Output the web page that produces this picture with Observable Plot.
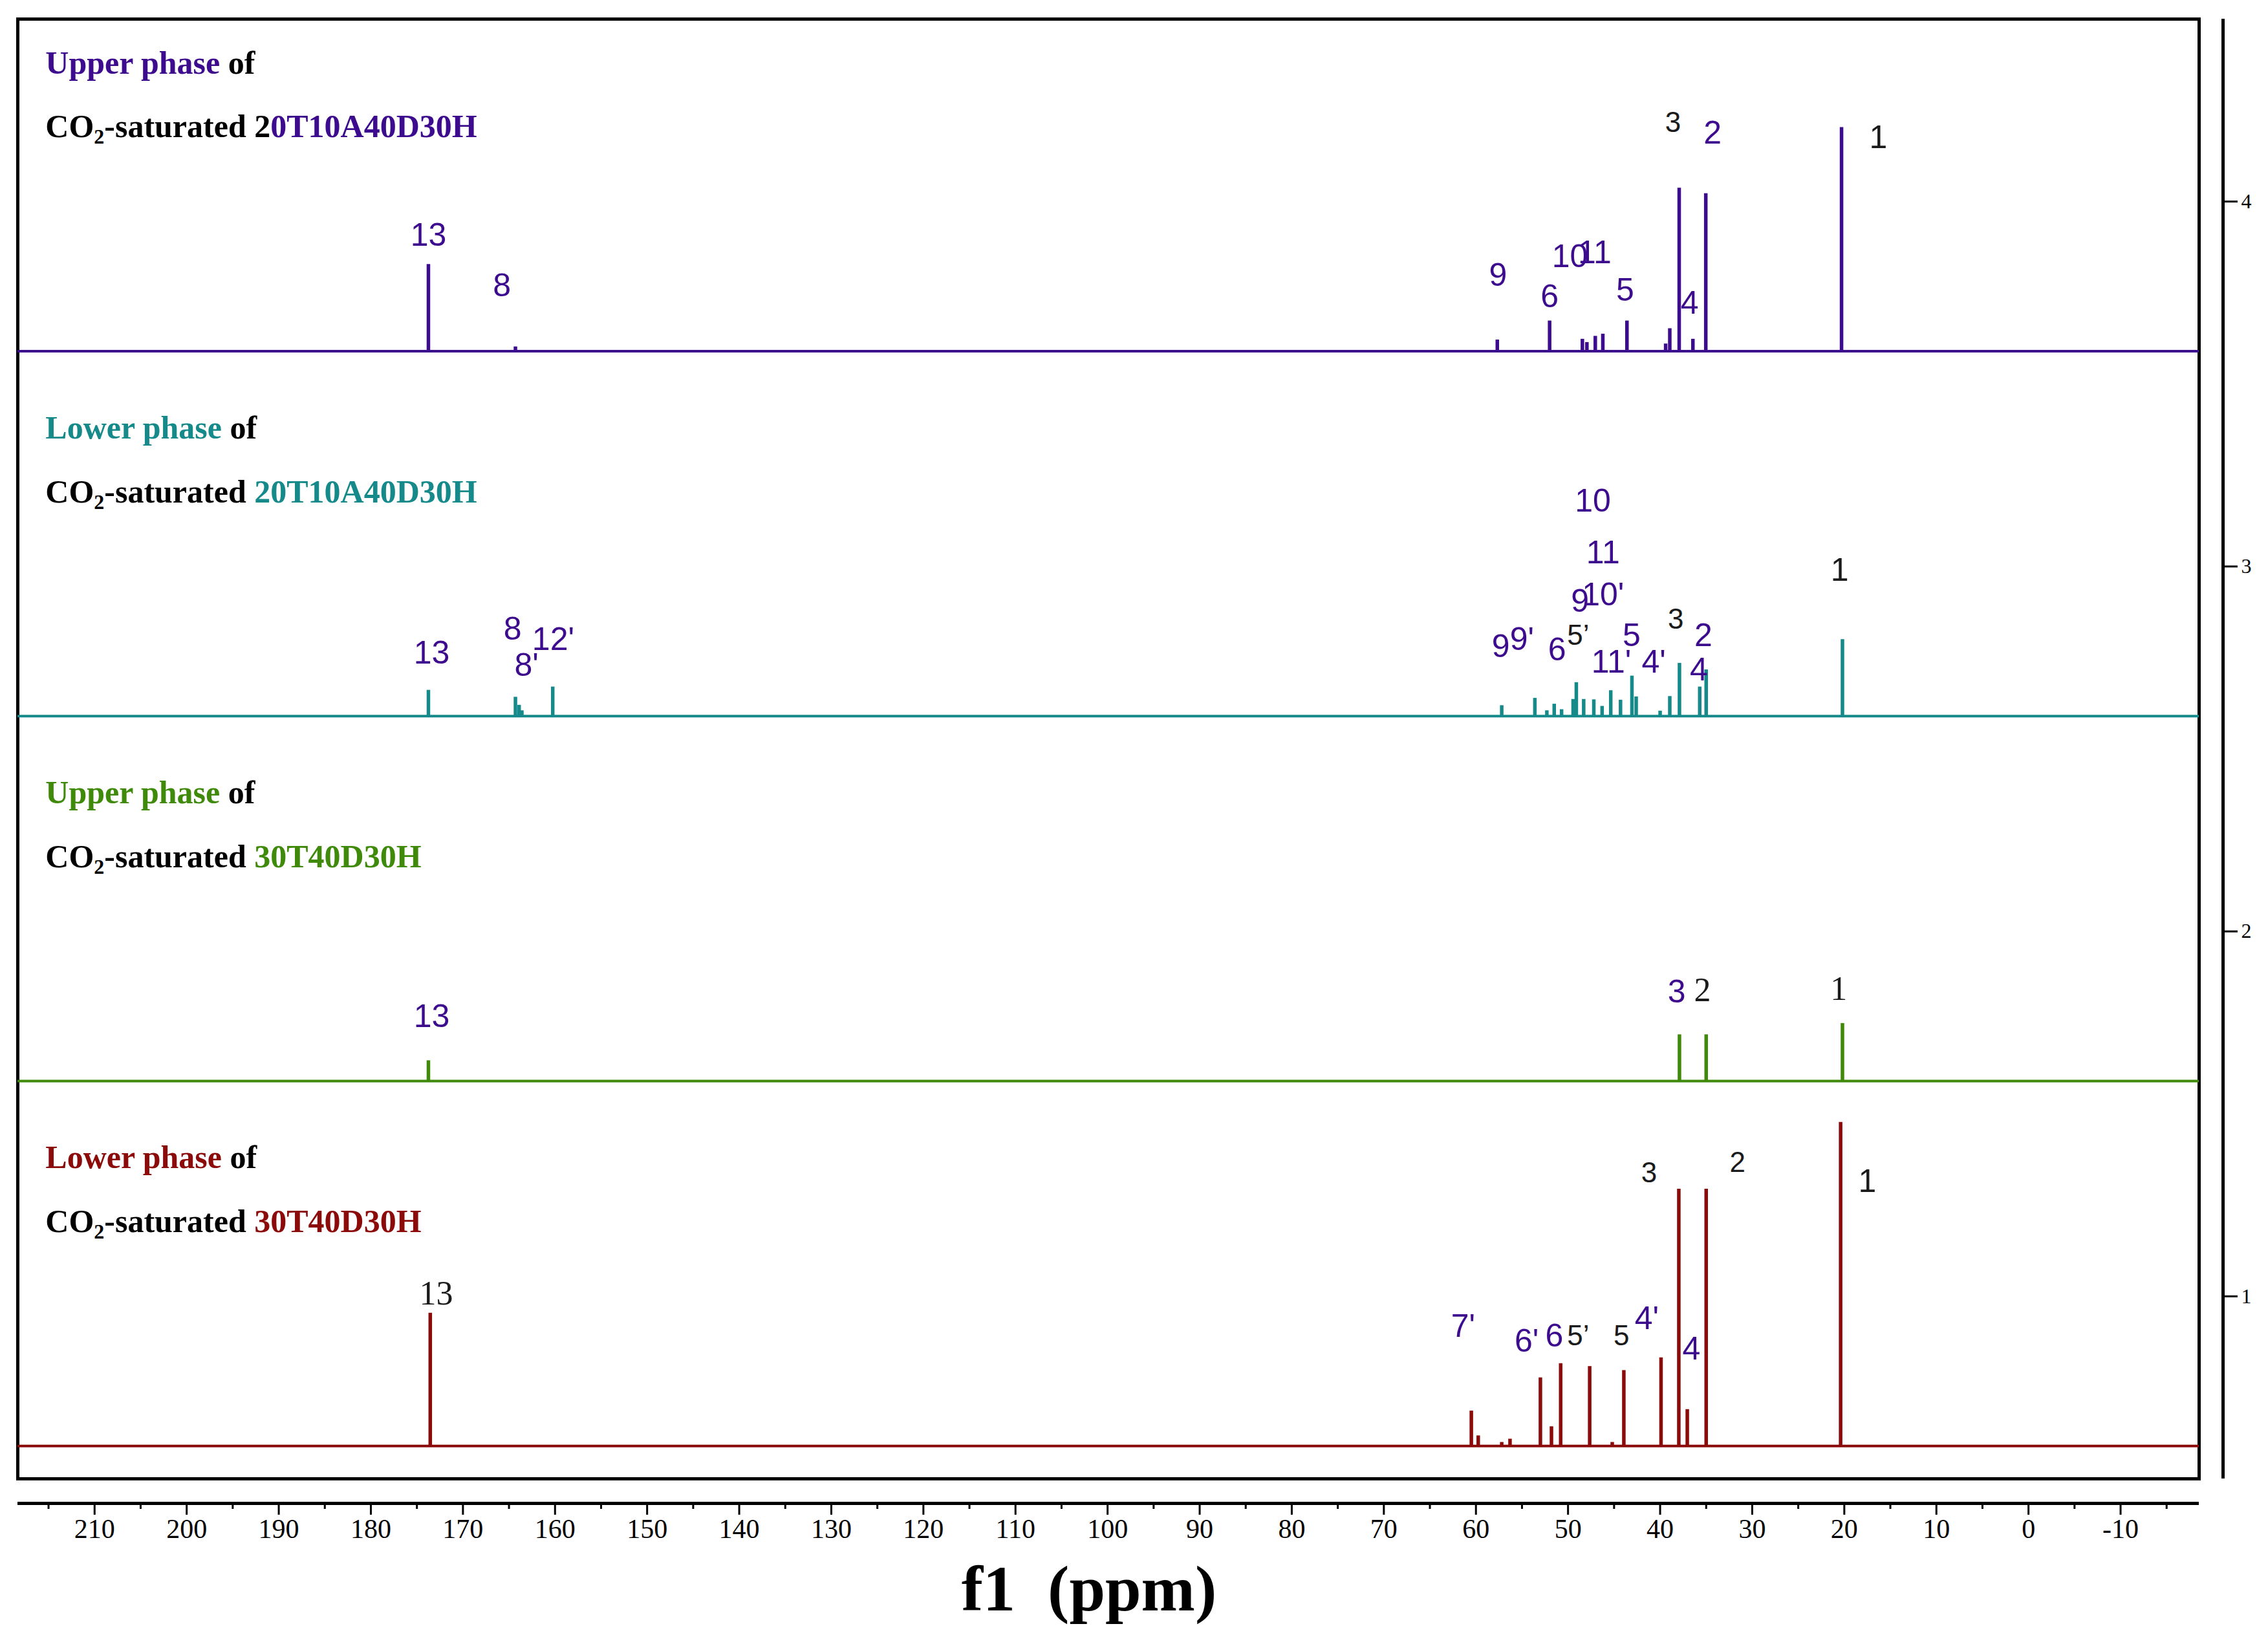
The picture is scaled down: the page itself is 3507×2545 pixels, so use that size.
<!DOCTYPE html>
<html><head><meta charset="utf-8">
<script src="https://cdn.jsdelivr.net/npm/d3@7"></script>
<script src="https://cdn.jsdelivr.net/npm/@observablehq/plot@0.6"></script>
<style>html,body{margin:0;padding:0;background:#fff} svg{display:block}</style>
</head><body><div id="chart"></div>
<script>
// ---- scales / ticks ----
const ppmDomain = [218.34, -18.53];
const yDomain = [0.5, 4.5];
const xMajorTicks = [210,200,190,180,170,160,150,140,130,120,110,100,90,80,70,60,50,40,30,20,10,0,-10];
const xMinorTicks = [215,205,195,185,175,165,155,145,135,125,115,105,95,85,75,65,55,45,35,25,15,5,-5,-15];
const yTicks = [1,2,3,4];
const xTitle = "f1\u00a0\u00a0(ppm)";

// ---- panels (top to bottom) ----
const panelOffsets = [3.59, 2.59, 1.59, 0.59];
const panelColors = ["#3d0c8e", "#168a8a", "#3f8a0a", "#8b0a0a"];
const legendPhase = ["Upper phase", "Lower phase", "Upper phase", "Lower phase"];
const legendPrefix = ["2", "", "", ""];
const legendSample = ["0T10A40D30H", "20T10A40D30H", "30T40D30H", "30T40D30H"];

// ---- peaks: chemical shift (ppm) and height above baseline ----
const peakPpm1 = [173.75, 164.3, 57.68, 52.0, 48.44, 47.95, 47.04, 46.22, 43.6, 39.4, 38.95, 37.93, 36.44, 35.04, 20.3];
const peakH1   = [0.238, 0.012, 0.031, 0.083, 0.033, 0.024, 0.041, 0.047, 0.083, 0.02, 0.062, 0.447, 0.033, 0.432, 0.613];
const peakPpm2 = [173.75, 164.3, 163.9, 163.6, 160.25, 57.2, 53.6, 52.3, 51.5, 50.7, 49.45, 49.1, 48.3, 47.2, 46.3, 45.36, 44.3, 43.06, 42.6, 40.0, 38.95, 37.9, 35.7, 35.0, 20.2];
const peakH2   = [0.071, 0.052, 0.03, 0.015, 0.08, 0.029, 0.049, 0.015, 0.033, 0.018, 0.046, 0.092, 0.046, 0.045, 0.027, 0.07, 0.044, 0.11, 0.053, 0.014, 0.054, 0.145, 0.08, 0.127, 0.21];
const peakPpm3 = [173.75, 37.9, 35.0, 20.2];
const peakH3   = [0.056, 0.127, 0.127, 0.158];
const peakPpm4 = [173.55, 60.5, 59.75, 57.2, 56.3, 53.0, 51.8, 50.8, 47.65, 45.2, 43.94, 39.9, 37.97, 37.05, 35.0, 20.4];
const peakH4   = [0.364, 0.096, 0.028, 0.01, 0.019, 0.187, 0.053, 0.226, 0.218, 0.01, 0.207, 0.242, 0.704, 0.10, 0.704, 0.887];

// ---- peak labels: [text, ppm, y value, tone (p = purple, k = black), face] ----
const labels1 = [["13",173.75,3.908,"p","sans"],["8",165.76,3.769,"p","sans"],["9",57.6,3.797,"p","sans"],["6",52.0,3.739,"p","sans"],
  ["10",49.8,3.849,"p","sans"],["11",47.1,3.86,"p","sans"],["5",43.8,3.757,"p","sans"],["4",36.8,3.721,"p","sans"],
  ["3",38.6,4.215,"k","narrow"],["2",34.3,4.187,"p","sans"],["1",16.3,4.174,"k","sans"]];
const labels2 = [["13",173.4,2.762,"p","sans"],["8",164.6,2.827,"p","sans"],["8'",163.1,2.729,"p","sans"],["12'",160.2,2.80,"p","sans"],
  ["10",47.3,3.179,"p","sans"],["11",46.2,3.037,"p","sans"],["9",48.7,2.904,"p","sans"],["10'",46.2,2.922,"p","sans"],
  ["9",57.3,2.78,"p","sans"],["9'",55.0,2.80,"p","sans"],["6",51.2,2.771,"p","sans"],["5\u2019",48.9,2.81,"k","narrow"],
  ["5",43.1,2.81,"p","sans"],["11'",45.3,2.738,"p","sans"],["4'",40.7,2.738,"p","sans"],["3",38.3,2.854,"k","narrow"],
  ["2",35.3,2.81,"p","sans"],["4",35.8,2.717,"p","sans"],["1",20.5,2.99,"k","sans"]];
const labels3 = [["13",173.4,1.767,"p","sans"],["3",38.2,1.833,"p","sans"],["2",35.4,1.838,"k","serif"],["1",20.6,1.842,"k","serif"]];
const labels4 = [["7'",61.4,0.918,"p","sans"],["6'",54.5,0.876,"p","sans"],["6",51.5,0.891,"p","sans"],["5\u2019",48.9,0.891,"k","narrow"],
  ["5",44.2,0.891,"k","narrow"],["4'",41.45,0.938,"p","sans"],["4",36.6,0.856,"p","sans"],["3",41.2,1.338,"k","narrow"],
  ["2",31.6,1.366,"k","narrow"],["1",17.5,1.314,"k","sans"],["13",172.9,1.007,"k","serif"]];

// ---- build tables ----
const peakPpms = [peakPpm1, peakPpm2, peakPpm3, peakPpm4];
const peakHs = [peakH1, peakH2, peakH3, peakH4];
const peaks = peakPpms.map((arr, i) => arr.map((p, j) => ({ppm: p, base: panelOffsets[i], top: panelOffsets[i] + peakHs[i][j]})));
const labels = [labels1, labels2, labels3, labels4].flat().map(([text, ppm, y, tone, face]) => ({text, ppm, y, tone, face}));

const purple = "#3d0c8e", black = "#1a1a1a";
const faces = {
  sans: {fontFamily: "Liberation Sans, Arial, sans-serif", fontSize: 50},
  narrow: {fontFamily: "Liberation Sans Narrow, Arial Narrow, Liberation Sans, sans-serif", fontSize: 44},
  serif: {fontFamily: "Liberation Serif, Times New Roman, serif", fontSize: 52}
};
const labelMarks = [];
for (const face of Object.keys(faces)) for (const tone of ["p", "k"]) {
  const sub = labels.filter(d => d.face === face && d.tone === tone);
  if (sub.length) labelMarks.push(Plot.text(sub, {x: "ppm", y: "y", text: "text", fill: tone === "p" ? purple : black, ...faces[face]}));
}

const plot = Plot.plot({
  width: 3507, height: 2545,
  marginTop: 29, marginBottom: 259, marginLeft: 27, marginRight: 107,
  x: {domain: ppmDomain},
  y: {domain: yDomain},
  style: {background: "white", fontFamily: "Liberation Serif, Times New Roman, serif", color: "black"},
  marks: [
    Plot.frame({strokeWidth: 5}),
    ...panelOffsets.map((o, i) => Plot.ruleY([o], {stroke: panelColors[i], strokeWidth: 4})),
    ...peaks.map((pk, i) => Plot.ruleX(pk, {x: "ppm", y1: "base", y2: "top", stroke: panelColors[i], strokeWidth: 5.5})),
    ...labelMarks,
    Plot.ruleY([yDomain[0]], {dy: 38, strokeWidth: 5}),
    Plot.axisX(xMajorTicks, {anchor: "bottom", dy: 38, tickSize: 18, tickPadding: 6, strokeWidth: 3, fontSize: 42, tickFormat: d => String(d), label: null}),
    Plot.axisX(xMinorTicks, {anchor: "bottom", dy: 38, tickSize: 9, strokeWidth: 3, tickFormat: () => "", label: null}),
    Plot.ruleX([ppmDomain[1]], {dx: 37, strokeWidth: 5}),
    Plot.axisY(yTicks, {anchor: "right", dx: 37, tickSize: 22, tickPadding: 6, strokeWidth: 3, fontSize: 32, tickFormat: d => String(d), label: null}),
    Plot.text([xTitle], {frameAnchor: "bottom", dy: 203, dx: -30, fontSize: 100, fontWeight: "bold", fill: "black"})
  ]
});
document.getElementById("chart").appendChild(plot);

// ---- legends (multi-coloured text), positioned through the plot's own scales ----
const xs = plot.scale("x"), ys = plot.scale("y");
const svg = d3.select(plot);
const lg = svg.append("g")
  .attr("font-family", "Liberation Serif, Times New Roman, serif")
  .attr("font-weight", "bold").attr("font-size", 50).attr("text-anchor", "start");
panelOffsets.forEach((o, i) => {
  const x0 = xs.apply(215.3);
  const t1 = lg.append("text").attr("x", x0).attr("y", ys.apply(o + 0.76));
  t1.append("tspan").attr("fill", panelColors[i]).text(legendPhase[i]);
  t1.append("tspan").attr("fill", "black").text(" of");
  const t2 = lg.append("text").attr("x", x0).attr("y", ys.apply(o + 0.585));
  t2.append("tspan").attr("fill", "black").text("CO");
  t2.append("tspan").attr("fill", "black").attr("font-size", 32).attr("dy", 10).text("2");
  t2.append("tspan").attr("fill", "black").attr("dy", -10).text("-saturated " + legendPrefix[i]);
  t2.append("tspan").attr("fill", panelColors[i]).text(legendSample[i]);
});
</script></body></html>
